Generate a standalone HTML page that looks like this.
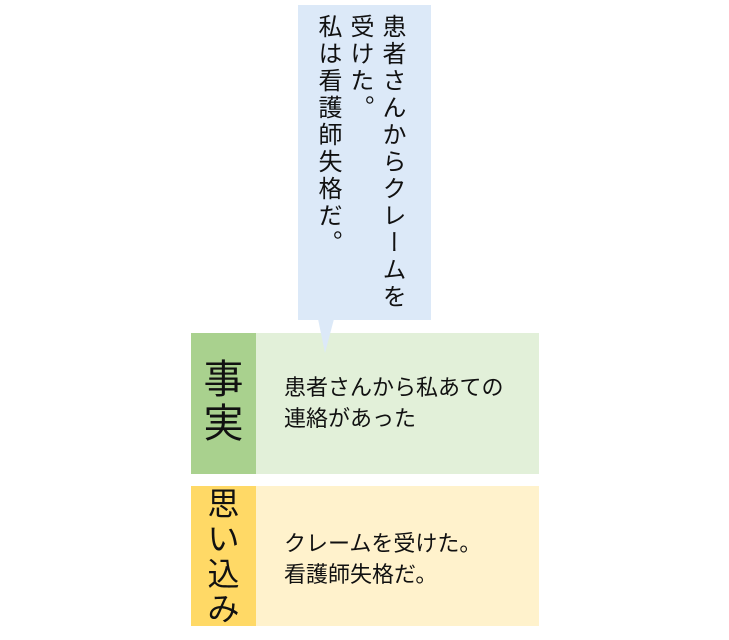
<!DOCTYPE html>
<html><head><meta charset="utf-8"><style>
body{margin:0;width:729px;height:640px;background:#fff;position:relative;overflow:hidden;font-family:"Liberation Sans","Noto Sans CJK JP",sans-serif;color:#111}
.abs{position:absolute}
.vt{writing-mode:vertical-rl;font-size:24px;line-height:32px;letter-spacing:3px}
.c{font-size:22px;line-height:31px}
</style></head><body>
<div class="abs" style="left:298px;top:5px;width:133px;height:315px;background:#dce9f8"></div>
<div class="abs vt" style="left:311px;top:14px;height:310px">患者さんからクレームを<br>受けた。<br>私は看護師失格だ。</div>
<div class="abs" style="left:191px;top:333px;width:65px;height:141px;background:#a9d18e"></div>
<div class="abs" style="left:256px;top:333px;width:283px;height:141px;background:#e2f0d9"></div>
<svg class="abs" style="left:0;top:0" width="729" height="640"><polygon points="318,319 334,319 325,353" fill="#dce9f8"/></svg>
<div class="abs" style="left:191px;top:358px;width:65px;text-align:center;font-size:40px;line-height:44px">事<br>実</div>
<div class="abs c" style="left:284px;top:372px">患者さんから私あての<br>連絡があった</div>
<div class="abs" style="left:191px;top:486px;width:65px;height:140px;background:#ffd966"></div>
<div class="abs" style="left:256px;top:486px;width:283px;height:140px;background:#fff2cc"></div>
<div class="abs" style="left:191px;top:487px;width:65px;text-align:center;font-size:32px;line-height:35px">思<br>い<br>込<br>み</div>
<div class="abs c" style="left:284px;top:528px">クレームを受けた。<br>看護師失格だ。</div>
</body></html>
